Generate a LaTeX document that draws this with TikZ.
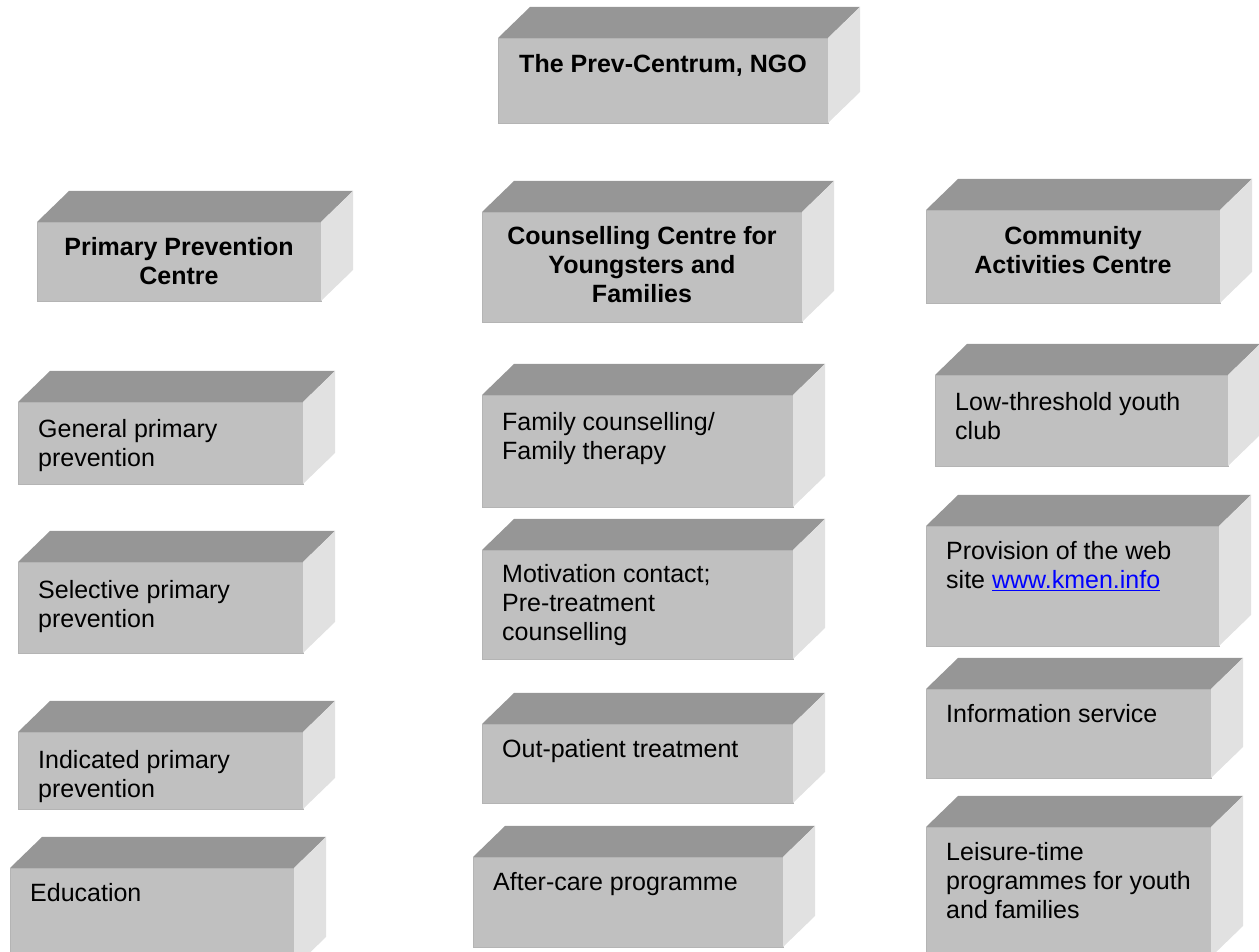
\documentclass[tikz,border=0pt]{standalone}
\usepackage{fontspec}
\setmainfont{Liberation Sans}
\usetikzlibrary{calc}
\definecolor{topc}{HTML}{969696}
\definecolor{frontc}{HTML}{C0C0C0}
\definecolor{sidec}{HTML}{E1E1E1}
\definecolor{edgec}{HTML}{B4B4B4}
\definecolor{linkblue}{HTML}{0000FF}
\tikzset{
  frontface/.style={fill=frontc, draw=edgec, line width=0.8pt, inner sep=0pt, outer sep=0pt, anchor=north west},
  topface/.style={fill=topc},
  sideface/.style={fill=sidec},
  boxtext/.style={anchor=base west, inner sep=0pt, font=\fontsize{25}{29}\selectfont},
  headtext/.style={anchor=base, inner sep=0pt, font=\fontsize{25}{29}\selectfont\bfseries},
}
% name, x, ytop, w, h  (pixel coordinates measured from the top)
\newcommand\cubebox[5]{%
  \node[frontface, minimum width=#4pt, minimum height=#5pt] (#1) at (#2,951-#3) {};
  \fill[topface] (#1.north west) -- ++(32,31) -- ($(#1.north east)+(32,31)$) -- (#1.north east) -- cycle;
  \fill[sideface] (#1.north east) -- ++(32,31) -- ($(#1.south east)+(32,31)$) -- (#1.south east) -- cycle;
}
% name, box, baseline offset, text
\newcommand\lefttext[4]{%
  \node[boxtext] (#1) at ($(#2.north west)+(20,-#3)$) {\parbox[t]{300pt}{\raggedright #4}};
}
\newcommand\headtxt[4]{%
  \node[headtext] (#1) at ($(#2.north)+(0,-#3)$) {\parbox[t]{320pt}{\centering #4}};
}
\begin{document}
\begin{tikzpicture}[x=1pt,y=1pt]
\useasboundingbox (0,0) rectangle (1259,951);
\clip (0,0) rectangle (1259,951);

% top
\cubebox{ngo}{498}{38}{330}{85}
\headtxt{t-ngo}{ngo}{34.7}{The Prev-Centrum, NGO}

% headers
\cubebox{ppc}{37}{222}{284}{79}
\headtxt{t-ppc}{ppc}{33.7}{Primary Prevention\\Centre}
\cubebox{ccy}{482}{212}{320}{110}
\headtxt{t-ccy}{ccy}{32.7}{Counselling Centre for\\Youngsters and\\Families}
\cubebox{cac}{926}{210}{294}{93}
\headtxt{t-cac}{cac}{35}{Community\\Activities Centre}

% left column
\cubebox{gen}{18}{402}{285}{82}
\lefttext{t-gen}{gen}{35.7}{General primary\\prevention}
\cubebox{sel}{18}{562}{285}{91}
\lefttext{t-sel}{sel}{36.5}{Selective primary\\prevention}
\cubebox{ind}{18}{732}{285}{77}
\lefttext{t-ind}{ind}{36.5}{Indicated primary\\prevention}
\cubebox{edu}{10}{868}{284}{100}
\lefttext{t-edu}{edu}{33.7}{Education}

% middle column
\cubebox{fam}{482}{395}{311}{112}
\lefttext{t-fam}{fam}{35.7}{Family counselling/\\Family therapy}
\cubebox{mot}{482}{550}{311}{109}
\lefttext{t-mot}{mot}{32.7}{Motivation contact;\\Pre-treatment\\counselling}
\cubebox{out}{482}{724}{311}{79}
\lefttext{t-out}{out}{33.7}{Out-patient treatment}
\cubebox{aft}{473}{857}{310}{90}
\lefttext{t-aft}{aft}{33.7}{After-care programme}

% right column
\cubebox{low}{935}{375}{293}{91}
\lefttext{t-low}{low}{35.7}{Low-threshold youth\\club}
\cubebox{prov}{926}{526}{293}{120}
\lefttext{t-prov}{prov}{33.7}{Provision of the web\\site \textcolor{linkblue}{\underline{www.kmen.info}}}
\cubebox{info}{926}{689}{285}{89}
\lefttext{t-info}{info}{33.7}{Information service}
\cubebox{leis}{926}{827}{285}{130}
\lefttext{t-leis}{leis}{33.7}{Leisure-time\\programmes for youth\\and families}
\end{tikzpicture}
\end{document}
